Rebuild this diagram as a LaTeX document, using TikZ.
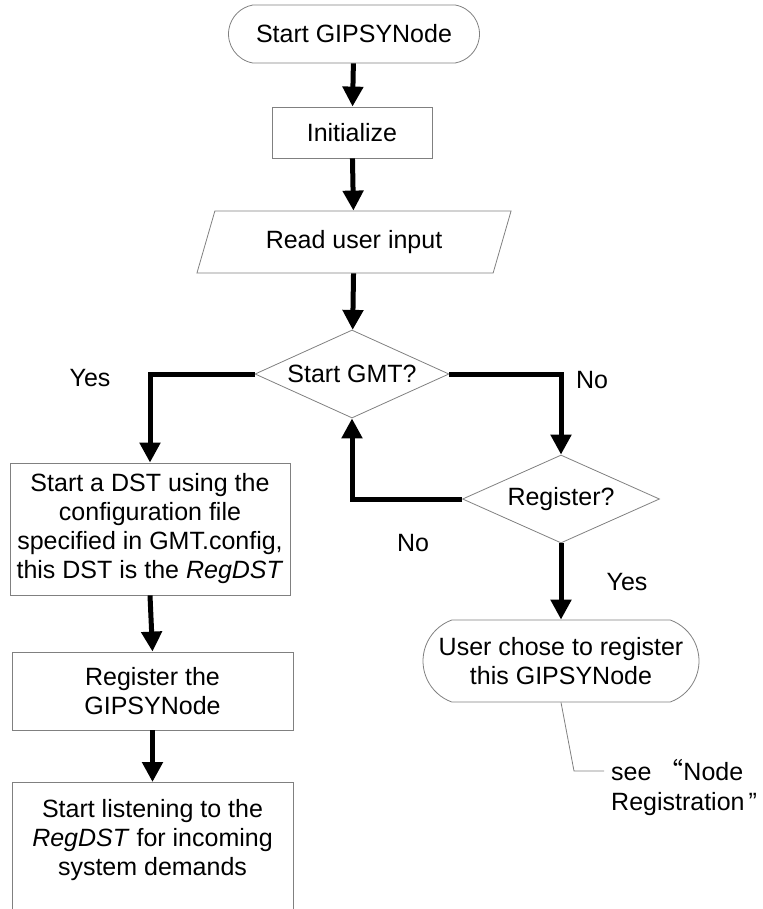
\documentclass[tikz,border=0pt]{standalone}
\usepackage{fontspec}
\setmainfont{Liberation Sans}
\newfontfamily\cjk{Noto Sans CJK SC}
\usetikzlibrary{arrows.meta,shapes.geometric,shapes.misc}

\tikzset{
  base/.style={draw=black!50, line width=0.8pt, inner sep=0pt, align=center,
    font=\fontsize{25}{29}\selectfont},
  procbox/.style={base, rectangle},
  termbox/.style={base, rounded rectangle},
  iobox/.style={base, trapezium, trapezium left angle=64, trapezium right angle=116,
    trapezium stretches=true},
  decbox/.style={base, diamond, aspect=2.2},
  flow/.style={line width=5pt, -{Triangle[width=20pt,length=20pt]}},
  branch/.style={font=\fontsize{25}{29}\selectfont, inner sep=0pt},
  callout/.style={draw=black!50, line width=0.8pt},
}

\begin{document}
\begin{tikzpicture}[x=1pt,y=-1pt]
  \useasboundingbox (0,0) rectangle (762,909);
  \clip (0,0) rectangle (762,909);

  % main column
  \node[termbox, minimum width=251pt, minimum height=58pt, rounded rectangle arc length=160]
    (start) at (354,34) {Start GIPSYNode};
  \node[procbox, minimum width=160pt, minimum height=51pt] (init) at (352,132.5) {Initialize};
  \node[iobox, minimum width=315pt, minimum height=62pt] (read) at (354,242) {Read user input};
  \node[decbox, minimum width=194pt, minimum height=88pt] (gmt) at (352,374) {Start GMT?};

  % left branch
  \node[procbox, minimum width=280pt, minimum height=132pt] (dst) at (150,529)
    {Start a DST using the\\configuration file\\specified in GMT.config,\\this DST is the \textit{RegDST}};
  \node[procbox, minimum width=281pt, minimum height=78pt] (regnode) at (152.5,691)
    {Register the\\GIPSYNode};
  \node[procbox, minimum width=281pt, minimum height=160pt, anchor=north] (listen) at (152.5,782) {};
  \node[branch, align=center] (listentext) at (152.5,840)
    {Start listening to the\\\textit{RegDST} for incoming\\system demands};

  % right branch
  \node[decbox, minimum width=197pt, minimum height=88pt] (reg) at (561,499) {Register?};
  \node[termbox, minimum width=276pt, minimum height=82pt, rounded rectangle arc length=140]
    (user) at (561,661) {User chose to register\\this GIPSYNode};

  % connectors
  \draw[flow] (start) -- (init);
  \draw[flow] (init) -- (read);
  \draw[flow] (read) -- (gmt);
  \draw[flow] (gmt.west) -| (dst.north);
  \draw[flow] (gmt.east) -| (reg.north);
  \draw[flow] (reg.west) -| (gmt.south);
  \draw[flow] (reg.south) -- (user.north);
  \draw[flow] (dst.south) -- (regnode.north);
  \draw[flow] (regnode.south) -- (listen.north);

  % branch labels
  \node[branch] (yesleft) at (90,378) {Yes};
  \node[branch] (noright) at (592,380) {No};
  \node[branch] (noloop) at (413,543) {No};
  \node[branch] (yesright) at (627,582) {Yes};

  % note attached to the terminal
  \coordinate (bend) at (574,771);
  \coordinate (noteend) at (604,771);
  \draw[callout] (user.south) -- (bend) -- (noteend);
  \node[branch, align=left, anchor=north west, font=\fontsize{25}{30}\selectfont]
    (seenote) at (611,759) {see {\cjk “}Node\\Registration\kern4pt”};
\end{tikzpicture}
\end{document}
